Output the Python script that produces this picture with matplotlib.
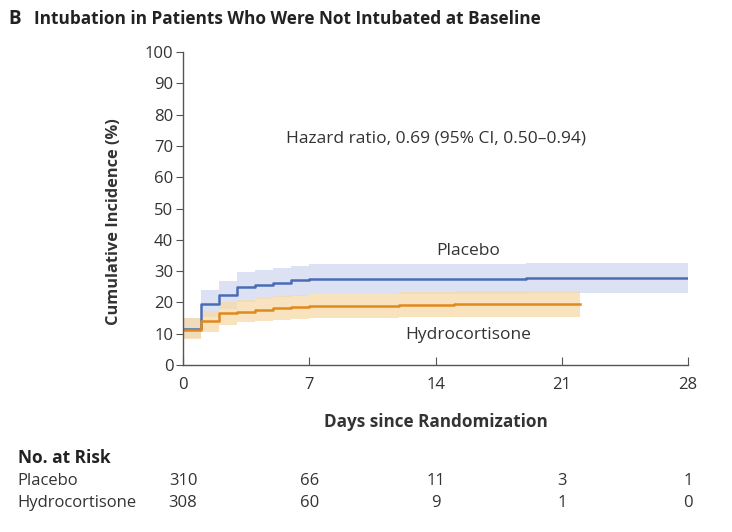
import matplotlib.pyplot as plt
import numpy as np

plt.rcParams['font.family'] = ['Open Sans', 'DejaVu Sans']

# step curves (day where each step starts, cumulative incidence %)
days_placebo = [0, 1, 2, 3, 4, 5, 6, 7, 19, 28]
placebo = [11.6, 19.5, 22.4, 24.8, 25.5, 26.2, 27.0, 27.5, 27.8, 27.8]
placebo_hi = [14.9, 24.0, 26.9, 29.6, 30.3, 31.0, 31.6, 32.2, 32.5, 32.5]
placebo_lo = [8.5, 15.4, 18.0, 20.2, 21.0, 21.6, 22.2, 22.8, 23.1, 23.1]

days_hydro = [0, 1, 2, 3, 4, 5, 6, 7, 12, 15, 22]
hydro = [11.3, 14.1, 16.5, 17.0, 17.6, 18.1, 18.5, 18.8, 19.2, 19.5, 19.5]
hydro_hi = [15.0, 17.4, 20.0, 20.8, 21.4, 21.9, 22.3, 22.8, 23.3, 23.8, 23.8]
hydro_lo = [8.3, 10.4, 12.8, 13.6, 14.0, 14.3, 14.6, 15.0, 15.2, 15.3, 15.3]

risk_days = [0, 7, 14, 21, 28]
risk_placebo = [310, 66, 11, 3, 1]
risk_hydro = [308, 60, 9, 1, 0]

blue = '#4a6cb3'
blue_band = '#d6dcf3'
orange = '#e0891c'
orange_band = '#f8d9a8'
gray = '#555555'
txt = '#333333'

fig = plt.figure(figsize=(7.32, 5.32), dpi=100)
ax = fig.add_axes([0.25, 0.314, 0.69, 0.588])

ax.fill_between(days_placebo, placebo_lo, placebo_hi, step='post',
                color=blue_band, alpha=0.85, lw=0)
ax.fill_between(days_hydro, hydro_lo, hydro_hi, step='post',
                color=orange_band, alpha=0.75, lw=0)
ax.step(days_placebo, placebo, where='post', color=blue, lw=1.8)
ax.step(days_hydro, hydro, where='post', color=orange, lw=1.8)

ax.set_xlim(0, 28)
ax.set_ylim(0, 100)
ax.set_xticks(risk_days)
ax.set_yticks(np.arange(0, 101, 10))
ax.spines['top'].set_visible(False)
ax.spines['right'].set_visible(False)
for s in ['left', 'bottom']:
    ax.spines[s].set_color(gray)
    ax.spines[s].set_linewidth(1.0)
ax.tick_params(axis='y', direction='out', length=5, color=gray,
               labelsize=12, labelcolor=txt, pad=2)
ax.tick_params(axis='x', direction='in', length=6, color=gray,
               labelsize=12, labelcolor=txt, pad=9)
ax.set_ylabel('Cumulative Incidence (%)', fontsize=11.8, fontweight='bold',
              color=txt)
ax.yaxis.set_label_coords(-0.12, 0.457)
ax.set_xlabel('Days since Randomization', fontsize=12.3, fontweight='bold',
              color=txt, labelpad=14)

ax.text(14, 72.5, 'Hazard ratio, 0.69 (95% CI, 0.50\u20130.94)',
        ha='center', va='center', fontsize=12.5, color=txt)
ax.text(15.8, 36.5, 'Placebo', ha='center', va='center', fontsize=12.5,
        color=txt)
ax.text(15.8, 9.5, 'Hydrocortisone', ha='center', va='center', fontsize=12.5,
        color=txt)

fig.text(0.012, 0.965, 'B', fontsize=13.5, fontweight='bold', color='#222222',
         va='center')
fig.text(0.047, 0.965, 'Intubation in Patients Who Were Not Intubated at Baseline',
         fontsize=12.4, fontweight='bold', color='#222222', va='center')

# number at risk table
fig.text(0.024, 0.139, 'No. at Risk', fontsize=12.5, fontweight='bold',
         color='#222222', va='center')
fig.text(0.024, 0.095, 'Placebo', fontsize=12, color=txt, va='center')
fig.text(0.024, 0.054, 'Hydrocortisone', fontsize=12, color=txt,
         va='center')
for d, p, h in zip(risk_days, risk_placebo, risk_hydro):
    xf = fig.transFigure.inverted().transform(ax.transData.transform((d, 0)))[0]
    fig.text(xf, 0.095, str(p), fontsize=12, color=txt,
             ha='center', va='center')
    fig.text(xf, 0.054, str(h), fontsize=12, color=txt,
             ha='center', va='center')

fig.savefig('out.png', dpi=100, facecolor='white')
